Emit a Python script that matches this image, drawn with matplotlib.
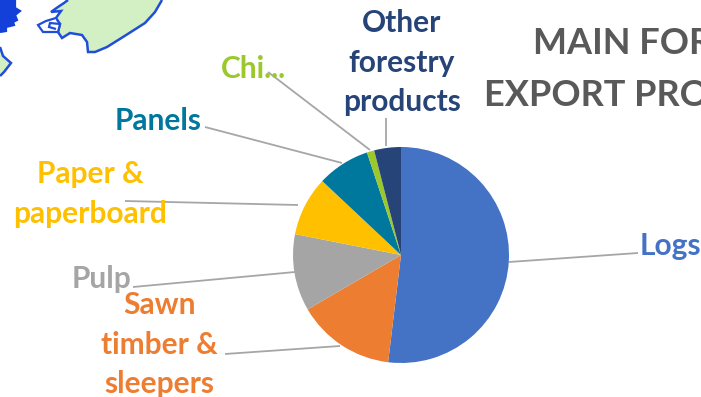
import matplotlib
matplotlib.use("Agg")
import matplotlib.pyplot as plt
from matplotlib.patches import Polygon

plt.rcParams["font.family"] = ["Lato", "DejaVu Sans"]

W, H = 701, 397

# Share of forestry exports, percent
categories = ["Logs", "Sawn timber & sleepers", "Pulp", "Paper & paperboard",
              "Panels", "Chi...", "Other forestry products"]
shares = [51.9, 14.7, 11.5, 8.9, 7.9, 1.1, 4.0]
colors = ["#4472C4", "#ED7D31", "#A5A5A5", "#FFC000", "#00789E", "#9BC82A", "#264478"]

# Label text, anchor and leader line in pixel space
label_text = ["Logs", "Sawn\ntimber &\nsleepers", "Pulp", "Paper &\npaperboard",
              "Panels", "Chi...", "Other\nforestry\nproducts"]
label_xy = [(670, 246), (159, 345), (101, 279), (90, 194), (158, 121), (253, 69), (402, 63)]
leaders = [[(509, 262), (638, 253)],
           [(340, 346), (225, 354)],
           [(295, 272), (133, 287)],
           [(298, 205), (125, 201)],
           [(342, 163), (205, 127)],
           [(370, 150), (268, 72)],
           [(386, 146), (386, 118)]]

title_lines = ["MAIN FOR", "EXPORT PRO"]

# Coastlines along the upper-left corner
island = [(68, 0), (64, 3), (58, 7), (51, 12), (61, 11), (56, 18), (60, 24), (58, 32),
          (62, 38), (70, 33), (82, 35), (87, 42), (88, 52), (95, 52), (107, 47),
          (123, 37), (145, 23), (155, 12), (162, 0)]
peninsula = [(56, 18), (46, 21), (38, 25), (43, 32), (58, 32), (60, 24), (50, 23), (49, 27), (56, 29)]
islet = [(0, 47), (3, 56), (11, 63), (4, 72), (0, 76)]
blob = [(0, 0), (15, 1), (15, 8), (20, 11), (15, 15), (17, 20), (13, 22), (14, 25),
        (6, 27), (6, 31), (0, 32)]

fig = plt.figure(figsize=(W / 100, H / 100), dpi=100, facecolor="white")

bg = fig.add_axes([0, 0, 1, 1])
bg.set_xlim(0, W)
bg.set_ylim(H, 0)
bg.axis("off")

bg.add_patch(Polygon(island, closed=False, fc="#D3F0C4", ec="#1F4FD8", lw=1.8))
bg.add_patch(Polygon(peninsula, closed=False, fc="white", ec="#1F4FD8", lw=1.6))
bg.add_patch(Polygon(islet, closed=False, fc="#D3F0C4", ec="#1F4FD8", lw=1.8))
bg.add_patch(Polygon(blob, closed=False, fc="#1240D8", ec="#1240D8", lw=1.6))

for line in leaders:
    bg.plot(*zip(*line), color="#A6A6A6", lw=1.3, solid_capstyle="butt")

label_colors = ["#4472C4", "#ED7D31", "#A5A5A5", "#FFC000", "#00789E", "#9BC82A", "#264478"]
for text, (x, y), c in zip(label_text, label_xy, label_colors):
    bg.text(x, y, text, color=c, fontsize=21.5, fontweight="bold",
            ha="center", va="center", linespacing=1.5)

bg.text(533, 44, title_lines[0], color="#595959", fontsize=26, fontweight="bold",
        ha="left", va="center", clip_on=True)
bg.text(484, 96, title_lines[1], color="#595959", fontsize=26, fontweight="bold",
        ha="left", va="center", clip_on=True)

# Pie centred at (401, 255) with a 108 px radius
cx, cy, r = 401, 255, 108
pie_ax = fig.add_axes([(cx - r) / W, 1 - (cy + r) / H, 2 * r / W, 2 * r / H])
pie_ax.pie(shares, colors=colors, startangle=90, counterclock=False, radius=1.0)
pie_ax.set_xlim(-1, 1)
pie_ax.set_ylim(-1, 1)

fig.savefig("out.png", dpi=100)
